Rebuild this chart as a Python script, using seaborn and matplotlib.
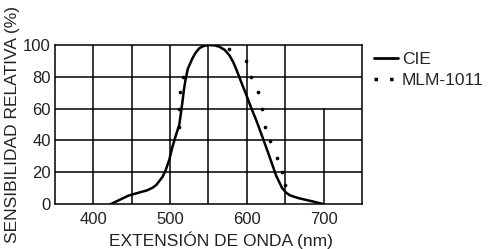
import numpy as np
import pandas as pd
import seaborn as sns
import matplotlib.pyplot as plt
from matplotlib.lines import Line2D

# CIE photopic curve
cie_nm = [423, 435, 446, 458, 470, 477, 482, 486, 490, 494, 499, 503, 508, 512, 516, 518,
          520, 523, 529, 533, 538, 544, 551, 558, 564, 571, 577, 582, 586, 590, 594, 599,
          606, 612, 620, 629, 638, 646, 651, 656, 662, 668, 676, 686, 699]
cie_val = [0, 2.8, 5.3, 7, 8.6, 10.2, 12, 14.5, 17, 21, 28, 36, 44, 50, 64, 72,
           78, 85, 91.6, 95, 98, 99.5, 100, 99.8, 99, 97, 93.7, 89.5, 85, 80, 75, 69,
           60, 53, 42.5, 30.5, 18, 10, 7.2, 5.5, 4.5, 3.6, 2.7, 1.6, 0]

# MLM-1011 measured points
mlm_nm = [511, 511, 513, 517, 577, 599, 606, 614, 620, 624, 630, 639, 646, 650]
mlm_val = [48.4, 59.6, 70.5, 80, 97.5, 90, 80, 70.5, 59.6, 48.4, 39.4, 28.8, 20, 12]

x_ticks = [400, 500, 600, 700]
y_ticks = [0, 20, 40, 60, 80, 100]

sns.set_theme(style="white")
plt.rcParams["font.family"] = ["Liberation Sans", "DejaVu Sans"]

cie = pd.DataFrame({"nm": cie_nm, "val": cie_val})
mlm = pd.DataFrame({"nm": mlm_nm, "val": mlm_val})

fig = plt.figure(figsize=(4.88, 2.49), dpi=100)
ax = fig.add_axes([0.1127, 0.1807, 0.6291, 0.6383])

# grid drawn by hand so the 700 line can stop at 60 like the scan
for v in [400, 450, 500, 550, 600, 650]:
    ax.axvline(v, color="black", lw=1.1, zorder=1)
ax.axvline(700, ymax=0.6, color="black", lw=1.1, zorder=1)
for h in [20, 40, 60, 80]:
    ax.axhline(h, color="black", lw=1.1, zorder=1)

sns.lineplot(data=cie, x="nm", y="val", color="black", lw=1.8, ax=ax, zorder=3)
sns.scatterplot(data=mlm, x="nm", y="val", color="black", s=7, linewidth=0, ax=ax, zorder=3)

ax.set_xlim(350, 750)
ax.set_ylim(0, 100)
ax.set_xticks(x_ticks)
ax.set_yticks(y_ticks)
ax.tick_params(labelsize=12, length=0, colors="#222222")
ax.tick_params(axis="x", pad=6)
ax.tick_params(axis="y", pad=3)
for s in ax.spines.values():
    s.set_color("black")
    s.set_linewidth(1.1)

ax.set_xlabel("EXTENSIÓN DE ONDA (nm)", fontsize=12.5, color="#222222", labelpad=3, x=0.54)
ax.set_ylabel("SENSIBILIDAD RELATIVA (%)", fontsize=12.5, color="#222222", labelpad=2)

handles = [
    Line2D([], [], color="black", lw=2),
    Line2D([], [], color="black", lw=2.5, linestyle=(0, (1, 3.5))),
]
ax.legend(handles, ["CIE", "MLM-1011"], loc="upper left", bbox_to_anchor=(1.017, 1.0),
          frameon=False, fontsize=12.5, handlelength=1.35, handletextpad=0.25,
          labelspacing=0.35, borderaxespad=0)

fig.savefig("out.png", dpi=100)
